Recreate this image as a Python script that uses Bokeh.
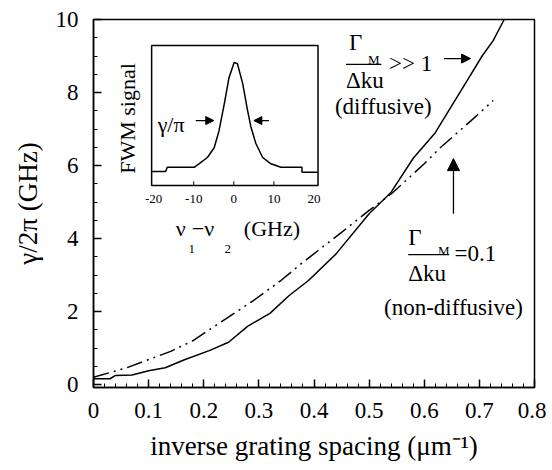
from bokeh.plotting import figure
from bokeh.models import Range1d, Arrow, NormalHead, FixedTicker, ColumnDataSource
from bokeh.core.properties import value
from bokeh.embed import file_html
from bokeh.resources import INLINE

FONT = "'Liberation Serif', 'Times New Roman', serif"

# ---- main data ----
solid_x = [0, 0.03, 0.04, 0.07, 0.10, 0.13, 0.165, 0.21, 0.245, 0.28, 0.32, 0.355, 0.39,
           0.44, 0.50, 0.54, 0.58, 0.62, 0.65, 0.68, 0.705, 0.725, 0.745]
solid_y = [0.16, 0.16, 0.25, 0.26, 0.38, 0.46, 0.68, 0.93, 1.16, 1.6, 1.95, 2.44, 2.85,
           3.58, 4.68, 5.27, 6.2, 6.9, 7.64, 8.38, 9.0, 9.42, 10.0]
dash_x = [0, 0.06, 0.14, 0.18, 0.24, 0.29, 0.34, 0.38, 0.45, 0.50, 0.54, 0.60, 0.63, 0.685, 0.725]
dash_y = [0.2, 0.46, 0.91, 1.2, 1.8, 2.3, 2.85, 3.35, 4.17, 4.77, 5.22, 6.05, 6.5, 7.23, 7.78]

x_ticks = [0, 0.1, 0.2, 0.3, 0.4, 0.5, 0.6, 0.7, 0.8]
x_tick_labels = ["0", "0.1", "0.2", "0.3", "0.4", "0.5", "0.6", "0.7", "0.8"]
y_ticks = [0, 2, 4, 6, 8, 10]
y_tick_labels = ["0", "2", "4", "6", "8", "10"]

# ---- inset data ----
inset_x = [-20.5, -17, -16.6, -9.9, -8.7, -6.6, -4.9, -3.7, -2.4, -1.2, 0.1, 0.9, 2.2, 3.4,
           4.25, 5.5, 7.2, 9.25, 11.75, 17, 17, 21]
inset_y = [0.10, 0.10, 0.13, 0.13, 0.155, 0.20, 0.27, 0.39, 0.58, 0.77, 0.88, 0.87, 0.73, 0.54,
           0.42, 0.30, 0.20, 0.155, 0.13, 0.13, 0.095, 0.095]
inset_ticks = [-20, -10, 0, 10, 20]
inset_tick_labels = ["-20", "-10", "0", "10", "20"]
inset_box = dict(left=-20.5, right=21, bottom=0, top=1)

p = figure(width=546, height=467, x_range=Range1d(0, 0.8), y_range=Range1d(-0.08, 10),
           output_backend="svg", toolbar_location=None,
           min_border_left=93, min_border_right=12, min_border_top=19, min_border_bottom=80)
p.extra_x_ranges = {"ix": Range1d(-35, 75)}
p.extra_y_ranges = {"iy": Range1d(-1.443, 1.186)}
p.xgrid.visible = False
p.ygrid.visible = False
p.outline_line_color = "black"
p.outline_line_width = 1.5
p.background_fill_color = "white"
p.border_fill_color = "white"

xminor = [round(i * 0.02, 2) for i in range(41)]
yminor = [i * 0.5 for i in range(21)]
p.xaxis.ticker = FixedTicker(ticks=x_ticks, minor_ticks=xminor)
p.yaxis.ticker = FixedTicker(ticks=y_ticks, minor_ticks=yminor)
p.xaxis.major_label_overrides = dict(zip(x_ticks, x_tick_labels))
p.yaxis.major_label_overrides = dict(zip(y_ticks, y_tick_labels))

for ax in (p.xaxis, p.yaxis):
    ax.major_tick_in = 8
    ax.major_tick_out = 0
    ax.minor_tick_in = 4
    ax.minor_tick_out = 0
    ax.axis_line_width = 1.5
    ax.major_tick_line_width = 1.5
    ax.minor_tick_line_width = 1
    ax.axis_line_color = "black"
    ax.major_tick_line_color = "black"
    ax.minor_tick_line_color = "black"
    ax.major_label_text_font = FONT
    ax.major_label_text_font_size = "23px"
    ax.major_label_text_color = "black"
    ax.axis_label_text_font = FONT
    ax.axis_label_text_font_size = "27px"
    ax.axis_label_text_font_style = "normal"
    ax.axis_label_text_color = "black"

p.xaxis.axis_label = "inverse grating spacing (μm⁻¹)"
p.yaxis.axis_label = "γ/2π (GHz)"
p.xaxis.major_label_standoff = 15
p.yaxis.major_label_standoff = 15
p.xaxis.axis_label_standoff = 10
p.yaxis.axis_label_standoff = 10

# main curves
p.line(solid_x, solid_y, line_color="black", line_width=1.5)
p.line(dash_x, dash_y, line_color="black", line_width=1.5, line_dash="16 5 2 5 2 5")

# annotations (main)
def texts(items, size, **kw):
    src = ColumnDataSource(dict(x=[i[1] for i in items], y=[i[2] for i in items],
                                t=[i[0] for i in items]))
    p.text(x="x", y="y", text="t", source=src, text_font=value(FONT),
           text_font_size=value(size), text_align="left", text_baseline="middle",
           text_color="black", **kw)

big = [("Γ", 0.4636, 9.37), (">> 1", 0.536, 8.79), ("Δku", 0.458, 8.33),
       ("(diffusive)", 0.438, 7.62),
       ("Γ", 0.571, 4.03), ("=0.1", 0.655, 3.59), ("Δku", 0.571, 3.04),
       ("(non-diffusive)", 0.527, 2.11)]
small = [("M", 0.498, 8.90), ("M", 0.625, 3.67)]
texts(big, "23px")
texts(small, "13px")
bar_x0 = [0.458, 0.571]
bar_x1 = [0.522, 0.645]
bar_y = [8.77, 3.56]
p.segment(x0=bar_x0, x1=bar_x1, y0=bar_y, y1=bar_y, line_color="black", line_width=1.2)

p.add_layout(Arrow(end=NormalHead(size=9, fill_color="black", line_color="black"),
                   x_start=0.636, y_start=8.93, x_end=0.684, y_end=8.93,
                   line_color="black", line_width=1.3))
p.add_layout(Arrow(end=NormalHead(size=12, fill_color="black", line_color="black"),
                   x_start=0.653, y_start=4.68, x_end=0.653, y_end=6.19,
                   line_color="black", line_width=1.3))

# ---- inset ----
p.quad(**inset_box, fill_color="white", line_color="black", line_width=1.5,
       x_range_name="ix", y_range_name="iy")
p.line(inset_x, inset_y, line_color="black", line_width=1.5,
       x_range_name="ix", y_range_name="iy")
p.segment(x0=inset_ticks[1:4], x1=inset_ticks[1:4], y0=[0] * 3, y1=[0.03] * 3,
          line_color="black", line_width=1, x_range_name="ix", y_range_name="iy")
p.text(x=inset_ticks, y=[-0.093] * len(inset_ticks), text=inset_tick_labels,
       text_font=value(FONT), text_font_size=value("13px"), text_align="center",
       text_baseline="middle", x_range_name="ix", y_range_name="iy")

inset_txt = [("ν", -14.5, -0.307), ("−ν", -10.5, -0.307), ("(GHz)", 2.5, -0.307),
             ("γ/π", -19, 0.436)]
src = ColumnDataSource(dict(x=[i[1] for i in inset_txt], y=[i[2] for i in inset_txt],
                            t=[i[0] for i in inset_txt]))
p.text(x="x", y="y", text="t", source=src, text_font=value(FONT),
       text_font_size=value("22px"), text_align="left", text_baseline="middle",
       x_range_name="ix", y_range_name="iy")
p.text(x=[-10.5, -1.5], y=[-0.45, -0.45], text=["1", "2"], text_font=value(FONT),
       text_font_size=value("13px"), text_align="center", text_baseline="middle",
       x_range_name="ix", y_range_name="iy")
p.text(x=[-26.5], y=[0.479], text=["FWM signal"], angle=1.5708, text_font=value(FONT),
       text_font_size=value("22px"), text_align="center", text_baseline="middle",
       x_range_name="ix", y_range_name="iy")

p.add_layout(Arrow(end=NormalHead(size=8, fill_color="black", line_color="black"),
                   x_start=-9.5, y_start=0.464, x_end=-5, y_end=0.464,
                   line_color="black", line_width=1.3, x_range_name="ix", y_range_name="iy"))
p.add_layout(Arrow(end=NormalHead(size=8, fill_color="black", line_color="black"),
                   x_start=8.75, y_start=0.464, x_end=5, y_end=0.464,
                   line_color="black", line_width=1.3, x_range_name="ix", y_range_name="iy"))

open("out.html", "w").write(file_html(p, INLINE))
